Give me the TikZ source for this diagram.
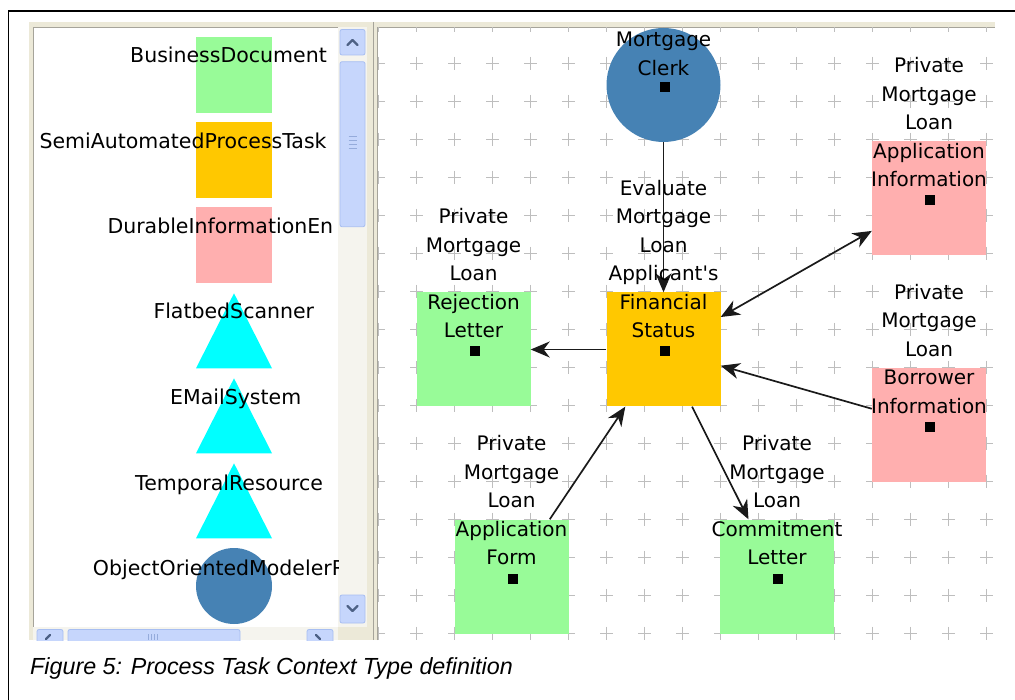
\documentclass[tikz,border=0pt]{standalone}
\usepackage{fontspec}
\setmainfont{DejaVu Sans}
\newfontfamily\capfont{Liberation Sans}
\usetikzlibrary{arrows.meta}
\definecolor{docgreen}{HTML}{98FB98}
\definecolor{taskorange}{HTML}{FFC800}
\definecolor{infopink}{HTML}{FFAFAF}
\definecolor{resblue}{HTML}{4682B4}
\definecolor{rescyan}{HTML}{00FFFF}
\definecolor{xpbeige}{HTML}{ECE9D8}
\definecolor{xptrack}{HTML}{F5F4EE}
\definecolor{sbfill}{HTML}{C6D6FC}
\definecolor{sbedge}{HTML}{A7BEF1}
\definecolor{sbglyph}{HTML}{4D6185}
\definecolor{gridgray}{HTML}{BEBEBE}
\definecolor{paneline}{HTML}{A6A49A}
\definecolor{inkgray}{HTML}{1A1A1A}
\tikzset{
  doc/.style={rectangle, fill=docgreen, minimum size=114pt, inner sep=0pt},
  task/.style={rectangle, fill=taskorange, minimum size=114pt, inner sep=0pt},
  info/.style={rectangle, fill=infopink, minimum size=114pt, inner sep=0pt},
  actor/.style={circle, fill=resblue, minimum size=114pt, inner sep=0pt},
  marker/.style={rectangle, fill=black, minimum size=10pt, inner sep=0pt, xshift=1pt, yshift=-2pt},
  lbl/.style={anchor=south, align=center, inner sep=0pt, text depth=0pt, yshift=11.5pt,
              font=\fontsize{20}{28.5}\selectfont},
  conn/.style={draw=inkgray, line width=1.7pt, -{Stealth[length=19pt,width=16pt,inset=6pt]}},
  biconn/.style={draw=inkgray, line width=1.7pt, {Stealth[length=19pt,width=16pt,inset=6pt]}-{Stealth[length=19pt,width=16pt,inset=6pt]}},
  gridcross/.style={draw=gridgray, line width=1.1pt},
  palbl/.style={anchor=base west, inner sep=0pt, font=\fontsize{20.5}{24}\selectfont},
  palbox/.style={rectangle, minimum size=76pt, inner sep=0pt},
  sbbtn/.style={fill=sbfill, draw=sbedge, line width=0.8pt, rounded corners=2pt},
  sbglyphline/.style={draw=sbglyph, line width=2.2pt, line cap=round, line join=round}
}
\begin{document}
\begin{tikzpicture}[x=1pt,y=-1pt]
\useasboundingbox (0,0) rectangle (1015,700);
\fill[white] (0,0) rectangle (1015,700);

% ---------- window chrome ----------
\begin{scope}
\clip (0,0) rectangle (1015,640);
\fill[xpbeige] (29,22) rectangle (378,640);
\fill[xpbeige] (370,22) rectangle (995,27.5);
\fill[white] (33.3,27) rectangle (338,627);
\draw[paneline, line width=0.8pt] (33.3,640) -- (33.3,27) -- (367,27);
% vertical scrollbar
\fill[xptrack] (338,27) rectangle (367,627);
\draw[sbbtn] (340,29.5) rectangle (365,55);
\draw[sbglyphline] (347.5,45) -- (352.5,40) -- (357.5,45);
\draw[sbbtn] (340,61.7) rectangle (365,226.7);
\foreach \yy in {136,140,144,148} {\draw[sbedge!80!sbglyph, line width=0.9pt] (348.5,\yy) -- (357,\yy);}
\draw[sbbtn] (340,595) rectangle (365,623);
\draw[sbglyphline] (347.5,606) -- (352.5,611) -- (357.5,606);
% horizontal scrollbar
\fill[xptrack] (33.3,627) rectangle (338,640);
\draw[sbbtn] (37,629.5) rectangle (63,650);
\draw[sbglyphline] (46,639) -- (50,635);
\draw[sbbtn] (68,629.5) rectangle (240,650);
\foreach \xx in {148,151,154,157} {\draw[sbedge!80!sbglyph, line width=0.9pt] (\xx,634) -- (\xx,640);}
\draw[sbbtn] (307,629.5) rectangle (333,650);
\draw[sbglyphline] (316,635) -- (320,639);
% panel separator
\draw[paneline, line width=1pt] (373.5,22) -- (373.5,640);
\draw[paneline, line width=0.8pt] (377.5,640) -- (377.5,27.5) -- (995,27.5);
\end{scope}

% ---------- palette ----------
\begin{scope}
\clip (33.3,27) rectangle (338,627);
\node[palbox, fill=docgreen] (pdoc) at (234,75) {};
\node[palbox, fill=taskorange] (ptask) at (234,160) {};
\node[palbox, fill=infopink] (pinfo) at (234,245) {};
\fill[rescyan] (196,368.3) -- (272,368.3) -- (234,293.3) -- cycle;
\fill[rescyan] (196,453.3) -- (272,453.3) -- (234,378.3) -- cycle;
\fill[rescyan] (196,538.3) -- (272,538.3) -- (234,463.3) -- cycle;
\node[circle, fill=resblue, minimum size=76pt, inner sep=0pt] (pactor) at (234,586) {};
\node[palbl] (t1) at (130,63) {BusinessDocument};
\node[palbl] (t2) at (39.3,148.3) {SemiAutomatedProcessTask};
\node[palbl] (t3) at (107.3,233.3) {DurableInformationEn};
\node[palbl] (t4) at (153.3,318.3) {FlatbedScanner};
\node[palbl] (t5) at (170,405) {EMailSystem};
\node[palbl] (t6) at (135,490) {TemporalResource};
\node[palbl] (t7) at (92.7,575) {ObjectOrientedModelerR};
\end{scope}

% ---------- canvas ----------
\begin{scope}
\clip (378,28) rectangle (995,640);
\foreach \i in {0,...,16} {
  \foreach \j in {0,...,16} {
    \draw[gridcross] ({378.7+38*\i},{25.3+38*\j}) +(-6.5,0) -- +(6.5,0) +(0,-6.5) -- +(0,6.5);
  }
}
\node[actor] (clerk) at (663.5,85) {};
\node[doc] (rej) at (473.5,349.5) {};
\node[task] (fin) at (663.5,349.5) {};
\node[info] (ainfo) at (929,198.5) {};
\node[info] (binfo) at (929,425) {};
\node[doc] (aform) at (511.5,576.5) {};
\node[doc] (commit) at (777,576.5) {};

\node[marker] (mclerk) at (clerk) {};
\node[marker] (mrej) at (rej) {};
\node[marker] (mfin) at (fin) {};
\node[marker] (mainfo) at (ainfo) {};
\node[marker] (mbinfo) at (binfo) {};
\node[marker] (maform) at (aform) {};
\node[marker] (mcommit) at (commit) {};

\draw[conn] (clerk) -- (fin);
\draw[conn] (fin) -- (rej);
\draw[biconn] (fin) -- (ainfo);
\draw[conn] (binfo) -- (fin);
\draw[conn] (aform) -- (fin);
\draw[conn] (fin) -- (commit);

\node[lbl, yshift=-2pt] (lclerk) at (clerk) {Mortgage\\Clerk};
\node[lbl] (lrej) at (rej) {Private\\Mortgage\\Loan\\Rejection\\Letter};
\node[lbl] (lfin) at (fin) {Evaluate\\Mortgage\\Loan\\Applicant\textquotesingle s\\Financial\\Status};
\node[lbl] (lainfo) at (ainfo) {Private\\Mortgage\\Loan\\Application\\Information};
\node[lbl] (lbinfo) at (binfo) {Private\\Mortgage\\Loan\\Borrower\\Information};
\node[lbl] (laform) at (aform) {Private\\Mortgage\\Loan\\Application\\Form};
\node[lbl] (lcommit) at (commit) {Private\\Mortgage\\Loan\\Commitment\\Letter};
\end{scope}

% ---------- outer frame and caption ----------
\draw[line width=1.6pt] (8.5,700) -- (8.5,11) -- (1015,11);
\node[anchor=base west, inner sep=0pt, font=\capfont\itshape\fontsize{23.3}{27}\selectfont] (caption) at (30,674) {Figure 5: Process Task Context Type definition};
\end{tikzpicture}
\end{document}
